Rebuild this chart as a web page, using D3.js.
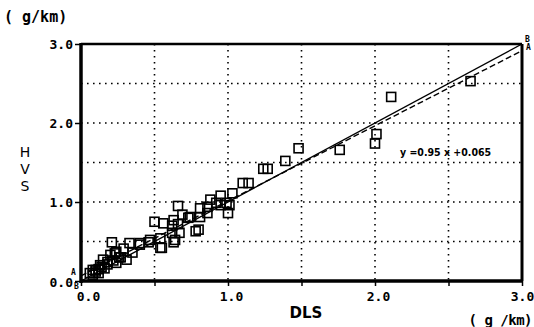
<!DOCTYPE html>
<html lang="en">
<head>
<meta charset="utf-8">
<script src="https://d3js.org/d3.v7.min.js"></script>
<style>
  body { margin:0; background:#fff; }
  svg text { fill:#000; }
  .tick text { font: bold 13px "DejaVu Sans Mono", monospace; }
</style>
</head>
<body>
<script>
// measured DLS vs HVS (g/km)
var dls = [2.65,2.11,2.01,2.00,1.76,1.48,1.39,1.24,1.27,1.10,1.14,1.03,
  1.01,0.99,1.00,0.95,0.95,0.92,0.88,0.86,0.86,0.81,0.81,0.80,0.78,0.74,0.73,0.69,
  0.67,0.66,0.66,0.64,0.63,0.63,0.62,0.62,0.56,0.55,0.54,0.54,0.50,0.47,0.46,0.40,
  0.40,0.33,0.31,0.29,0.27,0.24,0.24,0.23,0.21,0.20,0.18,0.16,0.15,0.14,0.13,0.12,
  0.10,0.08,0.08,0.06,0.10,0.12,0.18,0.22,0.26,0.35];
var hvs = [2.53,2.33,1.86,1.74,1.66,1.68,1.52,1.42,1.42,1.24,1.24,1.11,
  0.96,0.99,0.86,1.08,0.96,0.99,1.03,0.86,0.94,0.81,0.92,0.65,0.63,0.81,0.80,0.84,
  0.61,0.95,0.72,0.52,0.77,0.49,0.70,0.61,0.73,0.42,0.42,0.54,0.75,0.52,0.49,0.46,
  0.48,0.48,0.27,0.41,0.30,0.37,0.23,0.35,0.49,0.33,0.24,0.16,0.27,0.18,0.20,0.10,
  0.14,0.14,0.08,0.10,0.12,0.15,0.21,0.26,0.30,0.36];
var tickVals = [0,0.5,1,1.5,2,2.5,3];
var slope = 0.95, intercept = 0.065;

var W = 534, H = 327;
var svg = d3.select("body").append("svg").attr("width",W).attr("height",H);

var x = d3.scaleLinear().domain([0,3]).range([81,522]);
var y = d3.scaleLinear().domain([0,3]).range([281,44]);
var fmt = function(d){ return d % 1 === 0 ? d3.format(".1f")(d) : ""; };

// dotted grid
var grid = svg.append("g").attr("stroke","#000").attr("stroke-width",1.6)
  .attr("stroke-dasharray","1.6,4.4");
tickVals.slice(1,-1).forEach(function(v){
  grid.append("line").attr("x1",x(v)).attr("x2",x(v)).attr("y1",y(3)).attr("y2",y(0));
  grid.append("line").attr("x1",x(0)).attr("x2",x(3)).attr("y1",y(v)).attr("y2",y(v));
});

// axes
var xa = svg.append("g").attr("transform","translate(0,"+y(0)+")")
  .call(d3.axisBottom(x).tickValues(tickVals).tickFormat(fmt).tickSize(5).tickPadding(6));
var ya = svg.append("g").attr("transform","translate("+x(0)+",0)")
  .call(d3.axisLeft(y).tickValues([0,1,2,3]).tickFormat(fmt).tickSize(6).tickPadding(2));
[xa,ya].forEach(function(g){
  g.select(".domain").remove();
  g.selectAll("line").attr("stroke","#000").attr("stroke-width",1.5);
});
xa.selectAll("text").attr("dx", function(d){ return d===0 ? 7 : (d===3 ? 0 : 3); });
ya.selectAll("text").attr("dy", function(d){ return d===0 ? "0.45em" : "0.35em"; });

// frame
svg.append("line").attr("x1",x(0)).attr("x2",x(3)).attr("y1",y(3)).attr("y2",y(3))
  .attr("stroke","#000").attr("stroke-width",2.5);
svg.append("line").attr("x1",x(3)).attr("x2",x(3)).attr("y1",y(3)).attr("y2",y(0))
  .attr("stroke","#000").attr("stroke-width",3);
svg.append("line").attr("x1",x(0)).attr("x2",x(0)).attr("y1",y(3)-1).attr("y2",y(0)+2)
  .attr("stroke","#000").attr("stroke-width",3.5);
svg.append("line").attr("x1",x(0)).attr("x2",x(3)+1).attr("y1",y(0)).attr("y2",y(0))
  .attr("stroke","#000").attr("stroke-width",3.5);

// lines: B = y=x (solid), A = regression (dashed)
svg.append("line").attr("x1",x(0)).attr("y1",y(0)).attr("x2",x(3)).attr("y2",y(3))
  .attr("stroke","#000").attr("stroke-width",1.4);
svg.append("line").attr("x1",x(0)).attr("y1",y(intercept)).attr("x2",x(3)).attr("y2",y(slope*3+intercept))
  .attr("stroke","#000").attr("stroke-width",1.4).attr("stroke-dasharray","6,3");

// points
svg.append("g").selectAll("rect").data(d3.range(dls.length)).enter().append("rect")
  .attr("x", function(i){ return x(dls[i])-4.5; })
  .attr("y", function(i){ return y(hvs[i])-4.5; })
  .attr("width",9).attr("height",9)
  .attr("fill","none").attr("stroke","#000").attr("stroke-width",1.6);

// labels
var lab = function(t,px,py,f,anchor){
  return svg.append("text").attr("x",px).attr("y",py).text(t)
    .style("font",f).attr("text-anchor",anchor||"start");
};
lab("( g/km)",4,22,"bold 15px 'DejaVu Sans Mono', monospace");
lab("( g /km)",532,325,"bold 14px 'DejaVu Sans Mono', monospace","end").style("letter-spacing","-0.5px");
lab("DLS",306,318,"bold 15px 'DejaVu Sans', sans-serif","middle");
["H","V","S"].forEach(function(c,i){
  lab(c,25,157+i*17,"14px 'DejaVu Sans', sans-serif","middle");
});
lab("y =0.95 x +0.065",400,156,"bold 10.5px 'DejaVu Sans Condensed', sans-serif");
lab("A",71,275,"bold 8px 'DejaVu Sans Mono', monospace");
lab("B",74,289,"bold 8px 'DejaVu Sans Mono', monospace");
lab("B",525,42,"bold 8px 'DejaVu Sans Mono', monospace");
lab("A",526,50,"bold 8px 'DejaVu Sans Mono', monospace");
</script>
</body>
</html>
